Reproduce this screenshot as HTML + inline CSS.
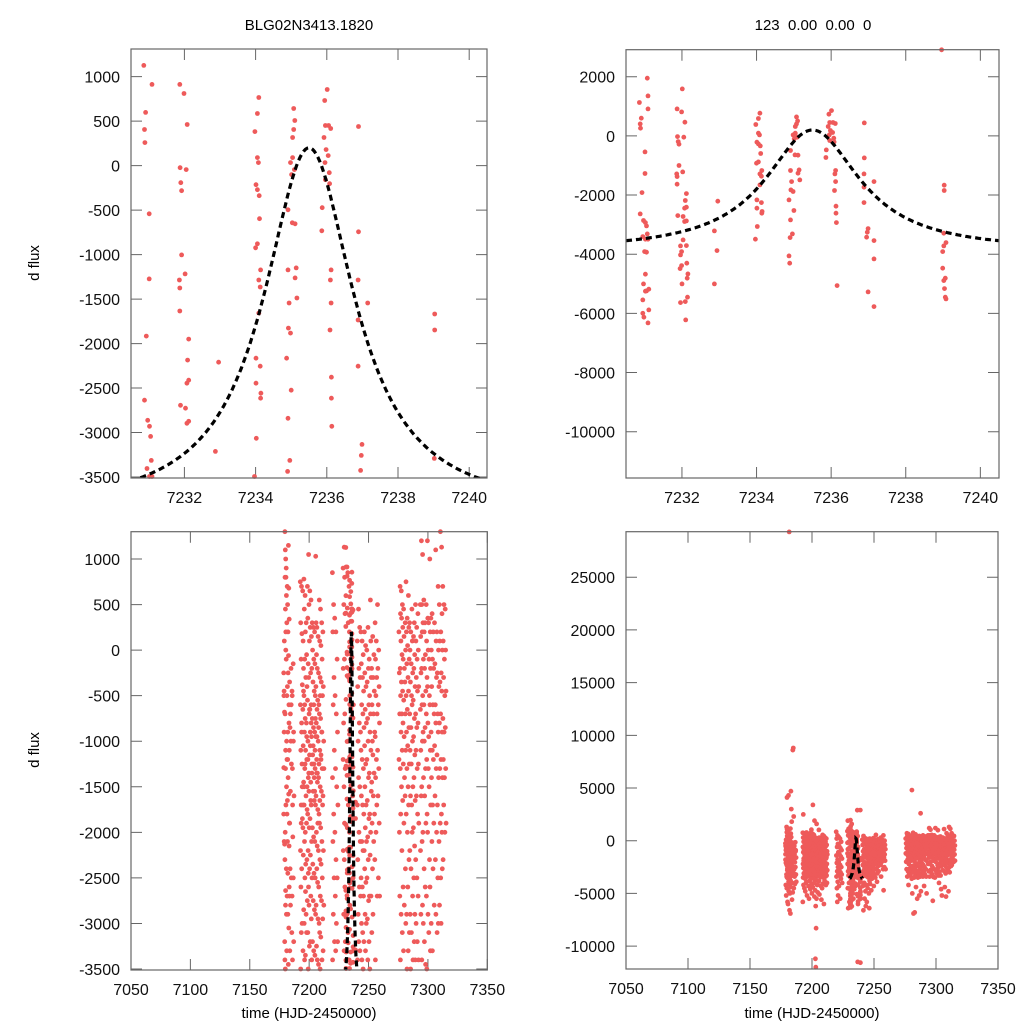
<!DOCTYPE html>
<html><head><meta charset="utf-8"><style>
html,body{margin:0;padding:0;background:#fff;}
svg{display:block;font-family:"Liberation Sans",sans-serif;}
</style></head><body>
<svg id="chart" width="1024" height="1024" viewBox="0 0 1024 1024" xmlns="http://www.w3.org/2000/svg">
<rect width="1024" height="1024" fill="#fff"/>
<text x="309" y="30" font-size="15" text-anchor="middle">BLG02N3413.1820</text>
<text x="813" y="30" font-size="15" text-anchor="middle" xml:space="preserve">123  0.00  0.00  0</text>
<text transform="translate(39,263) rotate(-90)" font-size="15" text-anchor="middle">d flux</text>
<text transform="translate(39,750) rotate(-90)" font-size="15" text-anchor="middle">d flux</text>
<text x="309" y="1018" font-size="15" text-anchor="middle">time (HJD-2450000)</text>
<text x="812" y="1018" font-size="15" text-anchor="middle">time (HJD-2450000)</text>
</svg>
<script>
// ---- data ----
const topTimes = [7230.86,7230.91,7230.88,7230.89,7231.01,7231.01,7230.93,7231.07,7231.09,7231.09,7230.88,7230.97,7231.02,7231.05,7231.07,7230.95,7231.02,7231.09,7231.00,7231.05,7231.02,7230.97,7231.02,7231.11,7230.95,7230.95,7230.98,7231.09,7231.11,7231.05,
7231.87,7231.99,7232.08,7231.88,7231.90,7231.92,7232.05,7232.01,7231.92,7232.02,7231.86,7231.87,7231.87,7232.12,7232.09,7232.12,7232.07,7231.89,7232.03,7232.07,7232.12,7232.03,7231.96,7232.12,7231.99,7231.96,7232.13,7231.99,7231.95,7232.16,7232.14,7232.00,7232.15,7232.09,7231.96,7232.10,
7232.96,7232.87,7232.94,7232.87,
7233.98,7234.05,7234.09,7234.05,7234.08,7234.01,7234.05,7234.10,7234.11,7234.00,7234.05,7234.14,7234.09,7234.13,7234.09,7234.01,7234.13,7234.01,7234.15,7234.14,7234.02,7233.97,
7235.07,7235.10,7235.04,7235.07,7234.98,7235.04,7235.09,7235.01,7234.91,7235.03,7235.11,7234.91,7235.14,7235.11,7235.16,7234.94,7234.92,7234.98,7234.87,7235.00,7234.91,7234.96,7234.90,7234.87,7234.89,
7236.01,7235.94,7235.96,7236.05,7236.11,7235.92,7235.98,7236.04,7235.95,7236.07,7235.96,7236.08,7235.87,7235.86,7236.12,7236.10,7236.12,7236.09,7236.13,7236.13,7236.14,7236.16,
7236.89,7236.89,7236.88,7237.15,7236.88,7236.88,7236.99,7236.97,7236.95,7237.15,7237.15,7236.99,7237.15,
7239.03,7239.03,7239.02,7239.08,7239.02,7238.99,7238.99,7239.06,7239.02,7239.04,7239.06,7239.08,7238.96,7239.01];
const topValues = [1127,598,406,259,-541,-1273,-1916,1950,1352,913,-2637,-2862,-2930,-3043,-3313,-3404,-3494,-3494,-3911,-3933,-4677,-5004,-5252,-5184,-5545,-5996,-6131,-6323,-5883,-5240,
913,811,462,-23,-192,-282,-45,1589,-1003,-1217,-1285,-1375,-1634,-1950,-2186,-2412,-2446,-2694,-2727,-2896,-2874,-3516,-3719,-3708,-3911,-4023,-4305,-4384,-4486,-4666,-4812,-5004,-5455,-5601,-5635,-6221,
-2209,-3212,-3877,-5004,
383,586,766,90,34,-214,-270,-338,-597,-924,-879,-1172,-1285,-1364,-1657,-2164,-2254,-2446,-2558,-2614,-3065,-3494,
642,507,316,406,34,90,-45,-101,-496,-642,-654,-1172,-1150,-1262,-1488,-1544,-1826,-1882,-2164,-2524,-2840,-3313,-3437,-4057,-4305,
856,732,451,451,417,316,180,113,34,-79,-158,-203,-473,-732,-1172,-1285,-1544,-1848,-2378,-2614,-2930,-5060,
440,-744,-1285,-1544,-1735,-2254,-3133,-3257,-3426,-3539,-4159,-5274,-5770,
-1668,-1848,-3291,-3606,-3719,-3911,-4474,-4812,-4891,-5162,-5455,-5511,2908,-11574];

const nightTimes = [7179,7180,7181,7182,7183,7184,7185,7186,7187,
7193,7194,7195,7196,7197,7198,7199,7200,7201,7202,7203,7204,7205,7206,7207,7208,7209,7210,7211,7212,
7220,7221,7222,7223,7224,7229,7230,7233,7234,7237,
7241,7242,7243,7244,7245,7246,7247,7248,7249,7250,7251,7252,7253,7254,7255,7256,7257,7258,7259,
7276,7277,7278,7279,7280,7281,7282,7283,7284,7285,7286,7287,7288,7289,7290,7291,7292,
7294,7295,7296,7297,7298,7299,7300,7301,7302,7303,7304,7305,7306,7307,7308,7309,7310,7311,7312,7313,7314,7315];
const nightValues = [
[-250,-450,-680,-1290,-2100,-2130,-500,100,-3200,-4200,-5200,-1800,-900],
[1300,1100,1000,800,450,0,-700,-1300,-1700,-2000,-2640,-3400,-3500,-5800,-4500,-2800,200,4100,-1100,-2300],
[800,600,300,-100,-1000,-1800,-2400,-3300,-2700,-3600,-4800,-6000,-1500,-500,900,4300,-1200,-2900,-3900],
[700,500,200,-400,-900,-1400,-2100,-2900,-3450,-6600,-5000,29300,-1200,-250,-1650,-2450,-4200],
[1150,680,340,-60,-600,-1100,-1580,-2150,-2700,-3050,-2600,-6900,4700,3000,-3800,-800,-1900,-4400],
[-350,-850,-1550,-1900,-2400,-2800,-3300,-4000,-4900,-5600,-700,1800],
[8600,8800,2300,-1000,-2500,-4500,-200,-1250,-3100,-600],
[-450,-1300,-2050,-2700,-3400,-4100,-500,-1700],
[-150,-900,-1600,-2500,-3200,-3900,-1000],
[750,300,-100,-600,-1100,-1700,-2200,-2600,-3100,-3500,-4200,-5800,2500,-1900],
[700,180,-380,-800,-1250,-1850,-2400,-3000,-3600,-4500,-1500,-900],
[650,100,-200,-650,-1050,-1450,-1950,-2250,-2850,-3300,-4000,-4800,-1700,-450],
[780,450,-100,-500,-900,-1300,-1700,-2100,-2500,-3000,-3400,-3900,-5200,-600,-1500],
[600,200,-300,-750,-1100,-1600,-2000,-2350,-2900,-3350,-4300,-1250,-2650],
[300,-50,-400,-800,-1200,-1500,-1900,-2300,-2750,-3100,-3800,-5500,-950,-1750],
[700,350,-150,-550,-1000,-1400,-1800,-2200,-2600,-3100,-3500,-4600,-1200,-2450],
[1050,500,100,-300,-700,-1150,-1550,-1950,-2400,-2800,-3250,-4100,-5000,-650,-1350],
[650,250,-250,-650,-1050,-1450,-1850,-2250,-2700,-3200,-3600,-4400,-900,-1650,3400],
[550,150,-200,-600,-950,-1350,-1700,-2100,-2500,-2950,-3400,-4000,-5300,-1250,-800,1900],
[300,0,-350,-750,-1150,-1550,-1950,-2350,-2750,-3200,-3700,-4700,-6200,-8300,-11200,-12000,-1050],
[250,-100,-450,-850,-1250,-1650,-2050,-2450,-2850,-3300,-4200,-5500,-600,-1400,1600],
[200,-150,-500,-900,-1300,-1700,-2100,-2500,-2900,-3350,-3900,-4900,-1100,-750,-1550],
[1030,300,-50,-400,-800,-1200,-1600,-2000,-2400,-2800,-3250,-3800,-5100,-1350,-950],
[250,-200,-550,-950,-1350,-1750,-2150,-2550,-2950,-3400,-4300,-650,-1450,-1900],
[150,-250,-600,-1000,-1400,-1800,-2200,-2600,-3000,-3450,-4500,-5600,-850,-1250],
[550,100,-300,-700,-1100,-1500,-1900,-2300,-2700,-3100,-3500,-4100,-1650,-500],
[450,50,-350,-750,-1150,-1550,-1950,-2350,-2750,-3150,-3800,-6000,-1200],
[300,-100,-500,-900,-1300,-1700,-2100,-2500,-2950,-3400,-4200,-900],
[200,-400,-1000,-1600,-2200,-2800,-3300,-4000,-1300],
[850,200,-600,-1400,-2100,-2900,-3400,-4500,-5800],
[500,-300,-1100,-1800,-2500,-3200,-3900,-5200],
[350,-500,-1300,-2000,-2700,-3300,-4300],
[200,-700,-1500,-2300,-3000,-3600,-5500],
[-100,-900,-1700,-2500,-3200,-4000],
[900,1900,500,-200,-800,-1500,-2200,-2900,-3300,-4500,-6400,-1200],
[1130,800,400,-100,-700,-1300,-1900,-2600,-3200,-4000,-5800,-2300],
[850,300,-300,-1000,-1700,-2400,-3100,-3800,-5500],
[700,200,-500,-1200,-2000,-2800,-3400,-4600],
[2900,-11500,-600,-1600,-2500,-3300,-4200,-6000],
[100,-400,-1000,-1700,-2300,-2900,-3400,-4300,-6600],
[450,-200,-800,-1400,-2000,-2600,-3200,-4000,-5500],
[250,-300,-900,-1500,-2100,-2700,-3300,-4800,-6200],
[200,-150,-600,-1100,-1600,-2100,-2500,-3000,-3400,-4200,-5800],
[100,-300,-700,-1200,-1700,-2200,-2600,-3100,-3500,-4500],
[-50,-450,-850,-1300,-1800,-2200,-2700,-3200,-3800,-5000,-6400],
[200,-250,-650,-1050,-1500,-1950,-2400,-2900,-3300,-4100],
[50,-400,-800,-1250,-1700,-2100,-2550,-3000,-3600,-4700],
[0,-350,-750,-1200,-1650,-2050,-2500,-2950,-3400],
[250,-200,-600,-1000,-1400,-1850,-2300,-2750,-3200,-4300],
[-100,-500,-900,-1350,-1800,-2250,-2700,-3500],
[550,100,-300,-700,-1100,-1550,-2000,-2700,-3900],
[-200,-600,-1000,-1450,-1900,-2400,-3100],
[150,-300,-700,-1150,-1600,-2100,-2900],
[-50,-450,-900,-1350,-1800,-2300],
[300,-100,-500,-950,-1400,-2000,-3400],
[100,-300,-700,-1200,-1700,-2700],
[500,-200,-600,-1100,-1600,-2500,-4700],
[0,-400,-800,-1300,-1900,-2700],
[200,-250,-700,-1200,-2000,-2700],
[700,400,100,-200,-500,-900,-1300,-1800,-2900,-3400],
[650,350,-50,-350,-700,-1100,-1500,-2200,-3100,-4200],
[500,250,-100,-450,-800,-1250,-1650,-2600,-3300],
[450,150,-200,-550,-950,-1400,-1900,-2800,-3600],
[4800,300,0,-350,-700,-1100,-1600,-2400,-3000,-5000],
[750,200,-150,-500,-900,-1300,-1800,-2900,-3500,-6900],
[350,50,-300,-650,-1050,-1500,-2000,-2600,-3300,-6800],
[600,250,-100,-450,-850,-1250,-1700,-2300,-3100,-4400],
[300,0,-350,-700,-1100,-1600,-2200,-2900,-3500,-5500],
[200,-150,-500,-850,-1250,-1700,-2400,-3100,-5200],
[450,100,-250,-600,-1000,-1500,-2000,-2700,-3400],
[2600,150,-200,-550,-950,-1400,-1950,-2500,-3200,-4800],
[300,-50,-400,-750,-1150,-1650,-2150,-2900,-3400],
[500,100,-300,-700,-1100,-1600,-2300,-3000,-4300],
[250,-100,-450,-850,-1300,-1800,-2500,-3200],
[400,0,-400,-800,-1250,-1900,-2700,-3400,-5000],
[500,150,-250,-650,-1100,-1600,-2200,-2900],
[1200,500,200,-200,-600,-1000,-1500,-2100,-2800,-3400],
[1050,300,-100,-500,-900,-1400,-2000,-3000],
[550,200,-200,-600,-1000,-1600,-2400,-3200,-5700],
[300,-50,-450,-850,-1300,-1900,-2600,-3450],
[500,100,-300,-700,-1200,-1800,-2700,-3500],
[1200,350,0,-400,-800,-1300,-2000,-2900],
[300,-100,-500,-950,-1500,-2300,-3100],
[1000,200,-200,-600,-1100,-1700,-2600,-3300,-4000],
[350,0,-400,-900,-1400,-2100,-3000],
[400,-100,-600,-1100,-1700,-2400,-3300,-4600],
[200,-200,-700,-1200,-1900,-2800,-5200],
[300,-150,-600,-1050,-1600,-2300],
[1100,100,-300,-800,-1300,-2000,-2900,-4400],
[200,-250,-700,-1150,-1700,-2500,-3100,-5300],
[700,0,-400,-900,-1400,-2100,-3000],
[500,100,-350,-800,-1300,-1900,-2800,-4800],
[1300,200,-250,-700,-1200,-1800,-2500,-3000],
[1130,400,0,-450,-900,-1400,-2000,-2400],
[700,100,-300,-750,-1200,-1700,-2300],
[500,-100,-500,-900,-1400,-2000],
[450,0,-450,-850,-1300,-1900],
[1300,150,-300,-700,-1100,-1600,2500],
[450,150,-200,-550,-900,-1950,-1300],
[300,-100,-450,-800,-1200]];

const modelPeak = [7235.5];
const modelBase = [-3900];
const modelAmp = [4100];
const modelWidth = [1.54];
const modelRange = [7230.5, 7240.5];

const ticksTopX = [7232,7234,7236,7238,7240];
const ticksBottomX = [7050,7100,7150,7200,7250,7300,7350];
const ticksLeftY = [1000,500,0,-500,-1000,-1500,-2000,-2500,-3000,-3500];
const ticksTRY = [2000,0,-2000,-4000,-6000,-8000,-10000];
const ticksBRY = [25000,20000,15000,10000,5000,0,-5000,-10000];

// ---- drawing ----
const NS = 'http://www.w3.org/2000/svg';
const svg = document.getElementById('chart');
function mk(tag, attrs, parent){
  const e = document.createElementNS(NS, tag);
  for (const k in attrs) e.setAttribute(k, attrs[k]);
  (parent||svg).appendChild(e);
  return e;
}
let allT = topTimes.slice(), allV = topValues.slice();
nightTimes.forEach((t,i)=>{
  const vals = nightValues[i];
  vals.forEach((v,j)=>{ allT.push(t + ((j*37)%100)/100*0.9 - 0.45); allV.push(v); });
});
const modelT = [], modelV = [];
for (let k=0;k<=200;k++){
  const t = modelRange[0] + (modelRange[1]-modelRange[0])*k/200;
  const d = (t-modelPeak[0])/modelWidth[0];
  modelT.push(t); modelV.push(modelBase[0] + modelAmp[0]/(1+d*d));
}

function panel(name, box, xd, yd, xt, yt, ts, vs){
  const g = mk('g', {});
  
  
  const sx = v => box.x + (v-xd[0])/(xd[1]-xd[0])*box.w;
  const sy = v => box.y + box.h - (v-yd[0])/(yd[1]-yd[0])*box.h;
  const cid = name+'-clip';
  const defs = mk('defs', {}, g);
  const cp = mk('clipPath', {id:cid}, defs);
  mk('rect', {x:box.x, y:box.y, width:box.w, height:box.h}, cp);
  xt.forEach(t=>{
    const x = sx(t);
    const tk = mk('path', {d:`M${x},${box.y+box.h}v-11M${x},${box.y}v11`, stroke:'#666', 'stroke-width':1}, g);
    
    
    const lb = mk('text', {x:x, y:box.y+box.h+25, 'font-size':16, 'text-anchor':'middle', fill:'#111'}, g);
    
    
    lb.textContent = t;
  });
  yt.forEach(v=>{
    const y = sy(v);
    const tk = mk('path', {d:`M${box.x},${y}h11M${box.x+box.w},${y}h-11`, stroke:'#666', 'stroke-width':1}, g);
    
    
    const lb = mk('text', {x:box.x-11, y:y+6, 'font-size':16, 'text-anchor':'end', fill:'#111'}, g);
    
    
    lb.textContent = v;
  });
  const pg = mk('g', {fill:'#ee5a5a'}, g);
  
  
  ts.forEach((t,i)=>{
    const v = vs[i];
    if (t < xd[0] || t > xd[1] || v < yd[0] || v > yd[1]) return;
    const c = mk('circle', {cx:sx(t).toFixed(1), cy:sy(v).toFixed(1), r:2.4}, pg);
    
    
  });
  const d = modelT.map((t,i)=>(i?'L':'M')+sx(t).toFixed(1)+','+sy(modelV[i]).toFixed(1)).join('');
  const ml = mk('path', {d:d, fill:'none', stroke:'#000', 'stroke-width':3.2, 'stroke-dasharray':'6,4', 'clip-path':`url(#${cid})`}, g);
  
  
  const fr = mk('rect', {x:box.x, y:box.y, width:box.w, height:box.h, fill:'none', stroke:'#666', 'stroke-width':1.2}, g);
  
  
}
panel('panel-top-left', {x:131,y:49,w:356,h:429}, [7230.5,7240.5], [-3511,1311], ticksTopX, ticksLeftY, topTimes, topValues);
panel('panel-top-right', {x:626,y:49.7,w:373,h:428.3}, [7230.5,7240.5], [-11565,2913], ticksTopX, ticksTRY, topTimes, topValues);
panel('panel-bottom-left', {x:131,y:531.7,w:356.3,h:438.3}, [7050,7350], [-3511,1300], ticksBottomX, ticksLeftY, allT, allV);
panel('panel-bottom-right', {x:626,y:531.7,w:372,h:437.3}, [7050,7350], [-12170,29317], ticksBottomX, ticksBRY, allT, allV);
</script>
</body></html>
